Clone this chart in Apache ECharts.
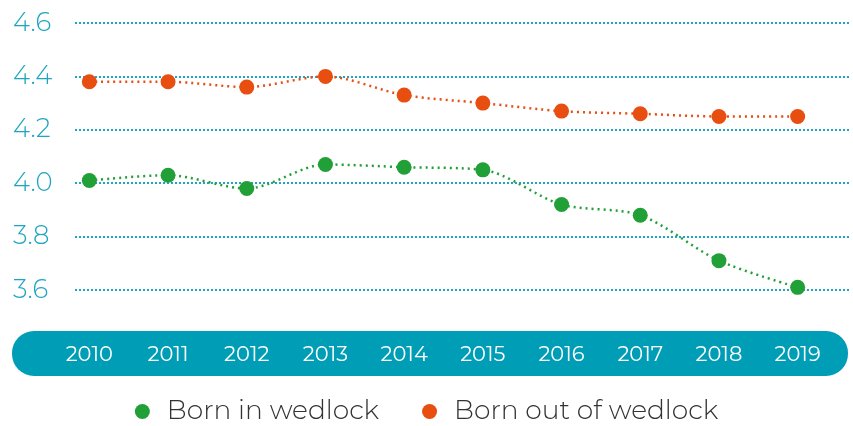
<!DOCTYPE html>
<html><head><meta charset="utf-8">
<script src="https://cdn.jsdelivr.net/npm/echarts@6/dist/echarts.min.js"></script>
<style>html,body{margin:0;padding:0;background:#fff}#c{width:853px;height:426px}</style>
</head><body><div id="c"></div>
<script>
const years = ['2010','2011','2012','2013','2014','2015','2016','2017','2018','2019'];
const bornInWedlock = [4.01, 4.03, 3.98, 4.07, 4.06, 4.05, 3.92, 3.88, 3.71, 3.61];
const bornOutOfWedlock = [4.38, 4.38, 4.36, 4.40, 4.33, 4.30, 4.27, 4.26, 4.25, 4.25];
const yMin = 3.6, yMax = 4.6, yStep = 0.2;

const teal = '#1fa5bf';
const green = '#21a038';
const orange = '#e84e10';
const font = 'Montserrat, Lato, "Open Sans", sans-serif';

const chart = echarts.init(document.getElementById('c'));
chart.setOption({
  animation: false,
  graphic: [{
    type: 'rect', left: 12, top: 331, z: -1,
    shape: { width: 836, height: 45, r: 22 },
    style: { fill: '#009db6' }
  }],
  legend: {
    bottom: -4, left: 'center',
    icon: 'circle', itemWidth: 15, itemHeight: 15, itemGap: 43,
    textStyle: { fontFamily: font, fontSize: 26.5, color: '#333', fontWeight: 300, padding: [0, 0, 0, 12] },
    data: ['Born in wedlock', 'Born out of wedlock']
  },
  grid: [
    { left: 50, width: 787, top: 23, height: 267 },
    { left: 75, right: 3, top: 23, height: 267 }
  ],
  xAxis: [
    { type: 'category', gridIndex: 0, data: years, boundaryGap: true,
      axisLine: { show: false }, axisTick: { show: false }, splitLine: { show: false },
      axisLabel: { color: '#fff', fontFamily: font, fontSize: 21, margin: 54 } },
    { type: 'value', gridIndex: 1, show: false }
  ],
  yAxis: [
    { type: 'value', gridIndex: 0, min: yMin, max: yMax, interval: yStep, show: false },
    { type: 'value', gridIndex: 1, min: yMin, max: yMax, interval: yStep,
      axisLine: { show: false }, axisTick: { show: false },
      splitLine: { lineStyle: { color: teal, type: [2, 2], width: 2 } },
      axisLabel: { color: teal, fontFamily: font, fontSize: 26, fontWeight: 300, align: 'left', margin: 62,
        formatter: v => v.toFixed(1) } }
  ],
  series: [
    { name: 'Born in wedlock', type: 'line', xAxisIndex: 0, yAxisIndex: 0, data: bornInWedlock,
      smooth: 0.3, symbol: 'circle', symbolSize: 15, color: green,
      itemStyle: { color: green }, lineStyle: { color: green, width: 2.5, type: [2, 4] } },
    { name: 'Born out of wedlock', type: 'line', xAxisIndex: 0, yAxisIndex: 0, data: bornOutOfWedlock,
      smooth: 0.3, symbol: 'circle', symbolSize: 15, color: orange,
      itemStyle: { color: orange }, lineStyle: { color: orange, width: 2.5, type: [2, 4] } }
  ]
});
</script></body></html>
